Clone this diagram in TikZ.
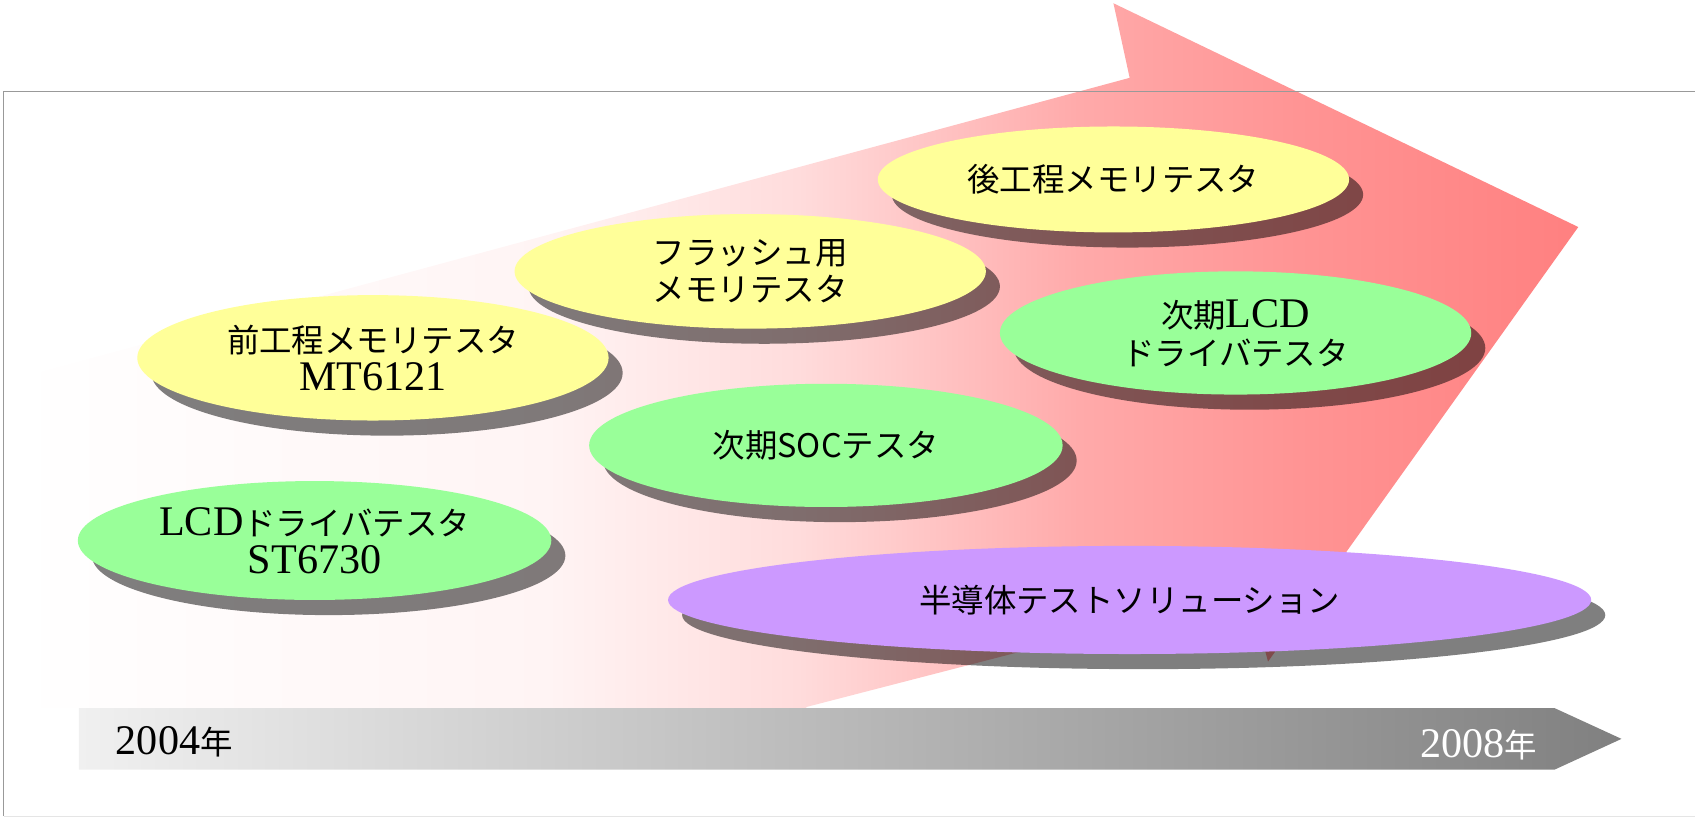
\documentclass[tikz,border=0pt]{standalone}
\usepackage{fontspec}
\newfontfamily\jp{Noto Sans CJK JP}
\newfontfamily\latf{Liberation Serif}
\usetikzlibrary{shapes.geometric,shadows}
\definecolor{yel}{HTML}{FFFF99}
\definecolor{grn}{HTML}{99FF99}
\definecolor{pur}{HTML}{CC99FF}
\definecolor{pkA}{HTML}{FFF4F4}
\definecolor{pkB}{HTML}{FFDCDC}
\definecolor{pkC}{HTML}{FFAAAA}
\definecolor{pkD}{HTML}{FF9494}
\definecolor{pkE}{HTML}{FF8080}
\definecolor{barL}{HTML}{F0F0F0}
\definecolor{barR}{HTML}{808080}
\definecolor{framec}{HTML}{999999}
\pgfdeclarehorizontalshading{arrowpink}{100bp}{color(0bp)=(white); color(25bp)=(white); color(42bp)=(pkA); color(50bp)=(pkB); color(59bp)=(pkC); color(66bp)=(pkD); color(75bp)=(pkE); color(100bp)=(pkE)}
\newcommand\lat[1]{{\latf\fontsize{39}{35}\selectfont #1}}
\tikzset{
  bub/.style={ellipse, inner sep=0pt, text=black, align=center,
    font=\fontsize{30}{35}\selectfont,
    drop shadow={shadow xshift=13pt, shadow yshift=-14pt, fill=black, opacity=0.5}},
  yearlbl/.style={inner sep=0pt, font=\fontsize{30}{35}\selectfont}
}
\begin{document}
\begin{tikzpicture}[x=1pt,y=-1pt]
\useasboundingbox (0,0) rectangle (1568,756);
% big perspective arrow
\shade[shading=arrowpink] (15,350) -- (1045,72) -- (1030,3) -- (1460,210) -- (1173,612) -- (1156,548) -- (746,654) -- (746,655) -- (15,655) -- cycle;
% frame
\draw[framec, line width=1.3pt] (3.5,755) -- (3.5,84.5) -- (1575,84.5);
\draw[gray!20, line width=1.3pt] (3.5,755.5) -- (1575,755.5);
% ellipses
\node[bub, fill=yel, minimum width=436pt, minimum height=98pt] (n1) at (1030,166) {\jp 後工程メモリテスタ};
\node[bub, fill=yel, minimum width=436pt, minimum height=106pt] (n2) at (694,251) {\jp フラッシュ用\\\jp メモリテスタ};
\node[bub, fill=yel, minimum width=436pt, minimum height=116pt] (n3) at (345,331) {\jp 前工程メモリテスタ\\\lat{MT6121}};
\node[bub, fill=grn, minimum width=436pt, minimum height=114pt] (n4) at (1143,308) {{\jp 次期}\lat{LCD}\\\jp ドライバテスタ};
\node[bub, fill=grn, minimum width=438pt, minimum height=114pt] (n5) at (764,412) {\jp 次期SOCテスタ};
\node[bub, fill=grn, minimum width=438pt, minimum height=110pt] (n6) at (291,500) {\lat{LCD}{\jp ドライバテスタ}\\\lat{ST6730}};
\node[bub, fill=pur, minimum width=854pt, minimum height=100pt] (n7) at (1045,555) {\jp 半導体テストソリューション};
% time bar
\shade[left color=barL, right color=barR] (73,655) -- (1438,655) -- (1500,683.5) -- (1438,712) -- (73,712) -- cycle;
\node[yearlbl, anchor=west] (y1) at (107,686) {\lat{2004}{\jp 年}};
\node[yearlbl, anchor=east, text=white] (y2) at (1422,689) {\lat{2008}{\jp 年}};
\end{tikzpicture}
\end{document}
